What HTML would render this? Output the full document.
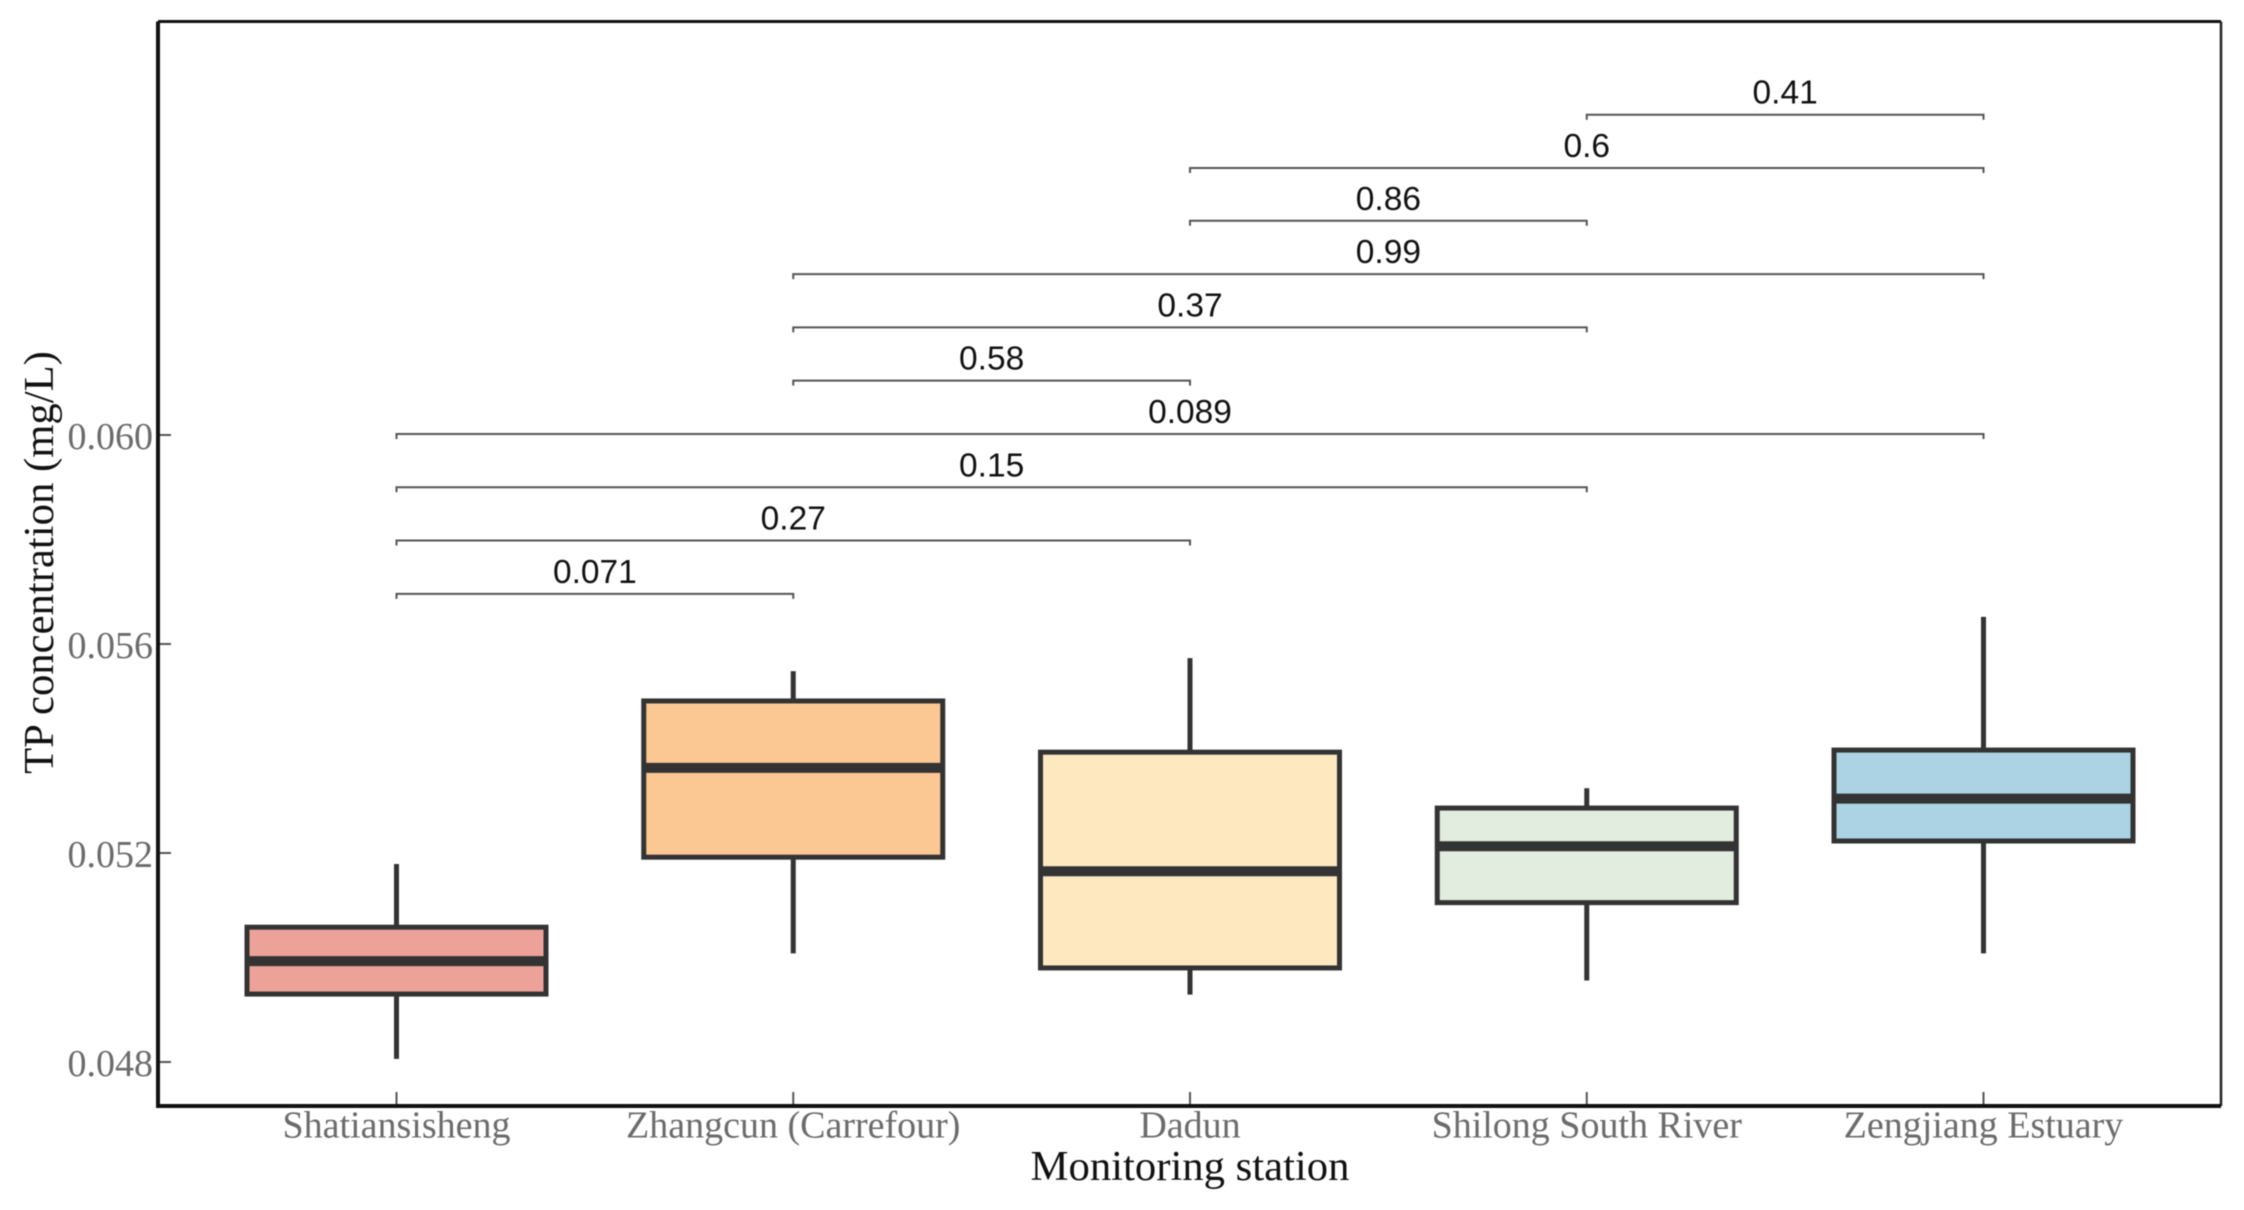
<!DOCTYPE html>
<html lang="en">
<head>
<meta charset="utf-8">
<title>TP concentration by monitoring station</title>
<style>
html,body{margin:0;padding:0;background:#fff;width:2244px;height:1210px;overflow:hidden}
svg{display:block;filter:blur(0.6px)}
.serif{font-family:"Liberation Serif",serif}
.sans{font-family:"Liberation Sans",sans-serif}
</style>
</head>
<body>
<svg id="chart" xmlns="http://www.w3.org/2000/svg" width="2244" height="1210" viewBox="0 0 2244 1210"></svg>
<script>
const categories = ['Shatiansisheng', 'Zhangcun (Carrefour)', 'Dadun', 'Shilong South River', 'Zengjiang Estuary'];
const whiskerLow  = [0.04806, 0.05008, 0.04929, 0.04956, 0.05008];
const q1Values    = [0.04930, 0.05192, 0.04980, 0.05105, 0.05223];
const medians     = [0.04993, 0.05363, 0.05165, 0.05213, 0.05304];
const q3Values    = [0.05058, 0.05491, 0.05393, 0.05286, 0.05397];
const whiskerHigh = [0.05179, 0.05548, 0.05573, 0.05324, 0.05652];
const boxColors   = ['#eca298', '#fbc792', '#fde8bf', '#e2ecdf', '#abd3e3'];
const yTicks      = [0.048, 0.052, 0.056, 0.060];
const yTickLabels = ['0.048', '0.052', '0.056', '0.060'];
const bracketFrom   = [0, 0, 0, 0, 1, 1, 1, 2, 2, 3];
const bracketTo     = [1, 2, 3, 4, 2, 3, 4, 3, 4, 4];
const bracketLevels = [0.05696, 0.05798, 0.05900, 0.06002, 0.06104, 0.06206, 0.06308, 0.06410, 0.06511, 0.06613];
const bracketLabels = ['0.071', '0.27', '0.15', '0.089', '0.58', '0.37', '0.99', '0.86', '0.6', '0.41'];

const plot = {left: 158, right: 2221, top: 21.5, bottom: 1106};
const xScale = i => 396.5 + i * 396.75;
const yScale = v => 1062 - (v - 0.048) / 0.004 * 209;
const boxHalf = 149.5;

const svg = document.getElementById('chart');
const NS = 'http://www.w3.org/2000/svg';
function make(tag, attrs, text) {
  const el = document.createElementNS(NS, tag);
  for (const k in attrs) el.setAttribute(k, attrs[k]);
  if (text !== undefined) el.textContent = text;
  svg.appendChild(el);
  return el;
}
let el;

// y ticks
yTicks.forEach((v, i) => {
  el = make('line', {x1: plot.left, x2: plot.left + 13, y1: yScale(v), y2: yScale(v), stroke: '#555', 'stroke-width': 2});
  
  
  el = make('text', {x: 153, y: yScale(v) + 14, 'text-anchor': 'end', class: 'serif', 'font-size': 38, fill: '#6b6b6b'}, yTickLabels[i]);
  
  
});

// x ticks and labels
categories.forEach((c, i) => {
  el = make('line', {x1: xScale(i), x2: xScale(i), y1: plot.bottom - 14, y2: plot.bottom, stroke: '#555', 'stroke-width': 2});
  
  
  el = make('text', {x: xScale(i), y: 1137.5, 'text-anchor': 'middle', class: 'serif', 'font-size': 38, fill: '#6b6b6b'}, c);
  
  
});

// boxes
categories.forEach((c, i) => {
  const x = xScale(i);
  el = make('line', {x1: x, x2: x, y1: yScale(whiskerHigh[i]), y2: yScale(q3Values[i]), stroke: '#333', 'stroke-width': 5});
  
  
  el = make('line', {x1: x, x2: x, y1: yScale(q1Values[i]), y2: yScale(whiskerLow[i]), stroke: '#333', 'stroke-width': 5});
  
  
  el = make('rect', {x: x - boxHalf, y: yScale(q3Values[i]), width: boxHalf * 2, height: yScale(q1Values[i]) - yScale(q3Values[i]), fill: boxColors[i], stroke: '#333', 'stroke-width': 5});
  
  
  el = make('line', {x1: x - boxHalf, x2: x + boxHalf, y1: yScale(medians[i]), y2: yScale(medians[i]), stroke: '#333', 'stroke-width': 10});
  
  
});

// significance brackets
bracketLabels.forEach((label, i) => {
  const a = xScale(bracketFrom[i]);
  const b = xScale(bracketTo[i]);
  const y = yScale(bracketLevels[i]);
  el = make('path', {d: 'M' + a + ' ' + (y + 5) + 'V' + y + 'H' + b + 'V' + (y + 5), fill: 'none', stroke: '#555', 'stroke-width': 2});
  
  
  el = make('text', {x: (a + b) / 2, y: y - 11, 'text-anchor': 'middle', class: 'sans', 'font-size': 33.5, fill: '#111'}, label);
  
  
});

// frame
el = make('line', {x1: plot.left, x2: plot.right, y1: plot.top, y2: plot.top, stroke: '#111', 'stroke-width': 3});


el = make('line', {x1: plot.right, x2: plot.right, y1: plot.top, y2: plot.bottom, stroke: '#222', 'stroke-width': 2.5});


el = make('line', {x1: plot.left, x2: plot.left, y1: plot.top, y2: plot.bottom + 2, stroke: '#111', 'stroke-width': 4});


el = make('line', {x1: plot.left, x2: plot.right, y1: plot.bottom, y2: plot.bottom, stroke: '#111', 'stroke-width': 4});



// axis titles
el = make('text', {x: xScale(2), y: 1180, 'text-anchor': 'middle', class: 'serif', 'font-size': 42.7, fill: '#111'}, 'Monitoring station');


el = make('text', {x: 0, y: 0, transform: 'translate(53 562.5) rotate(-90)', 'text-anchor': 'middle', class: 'serif', 'font-size': 42.7, fill: '#111'}, 'TP concentration (mg/L)');


</script>
</body>
</html>
